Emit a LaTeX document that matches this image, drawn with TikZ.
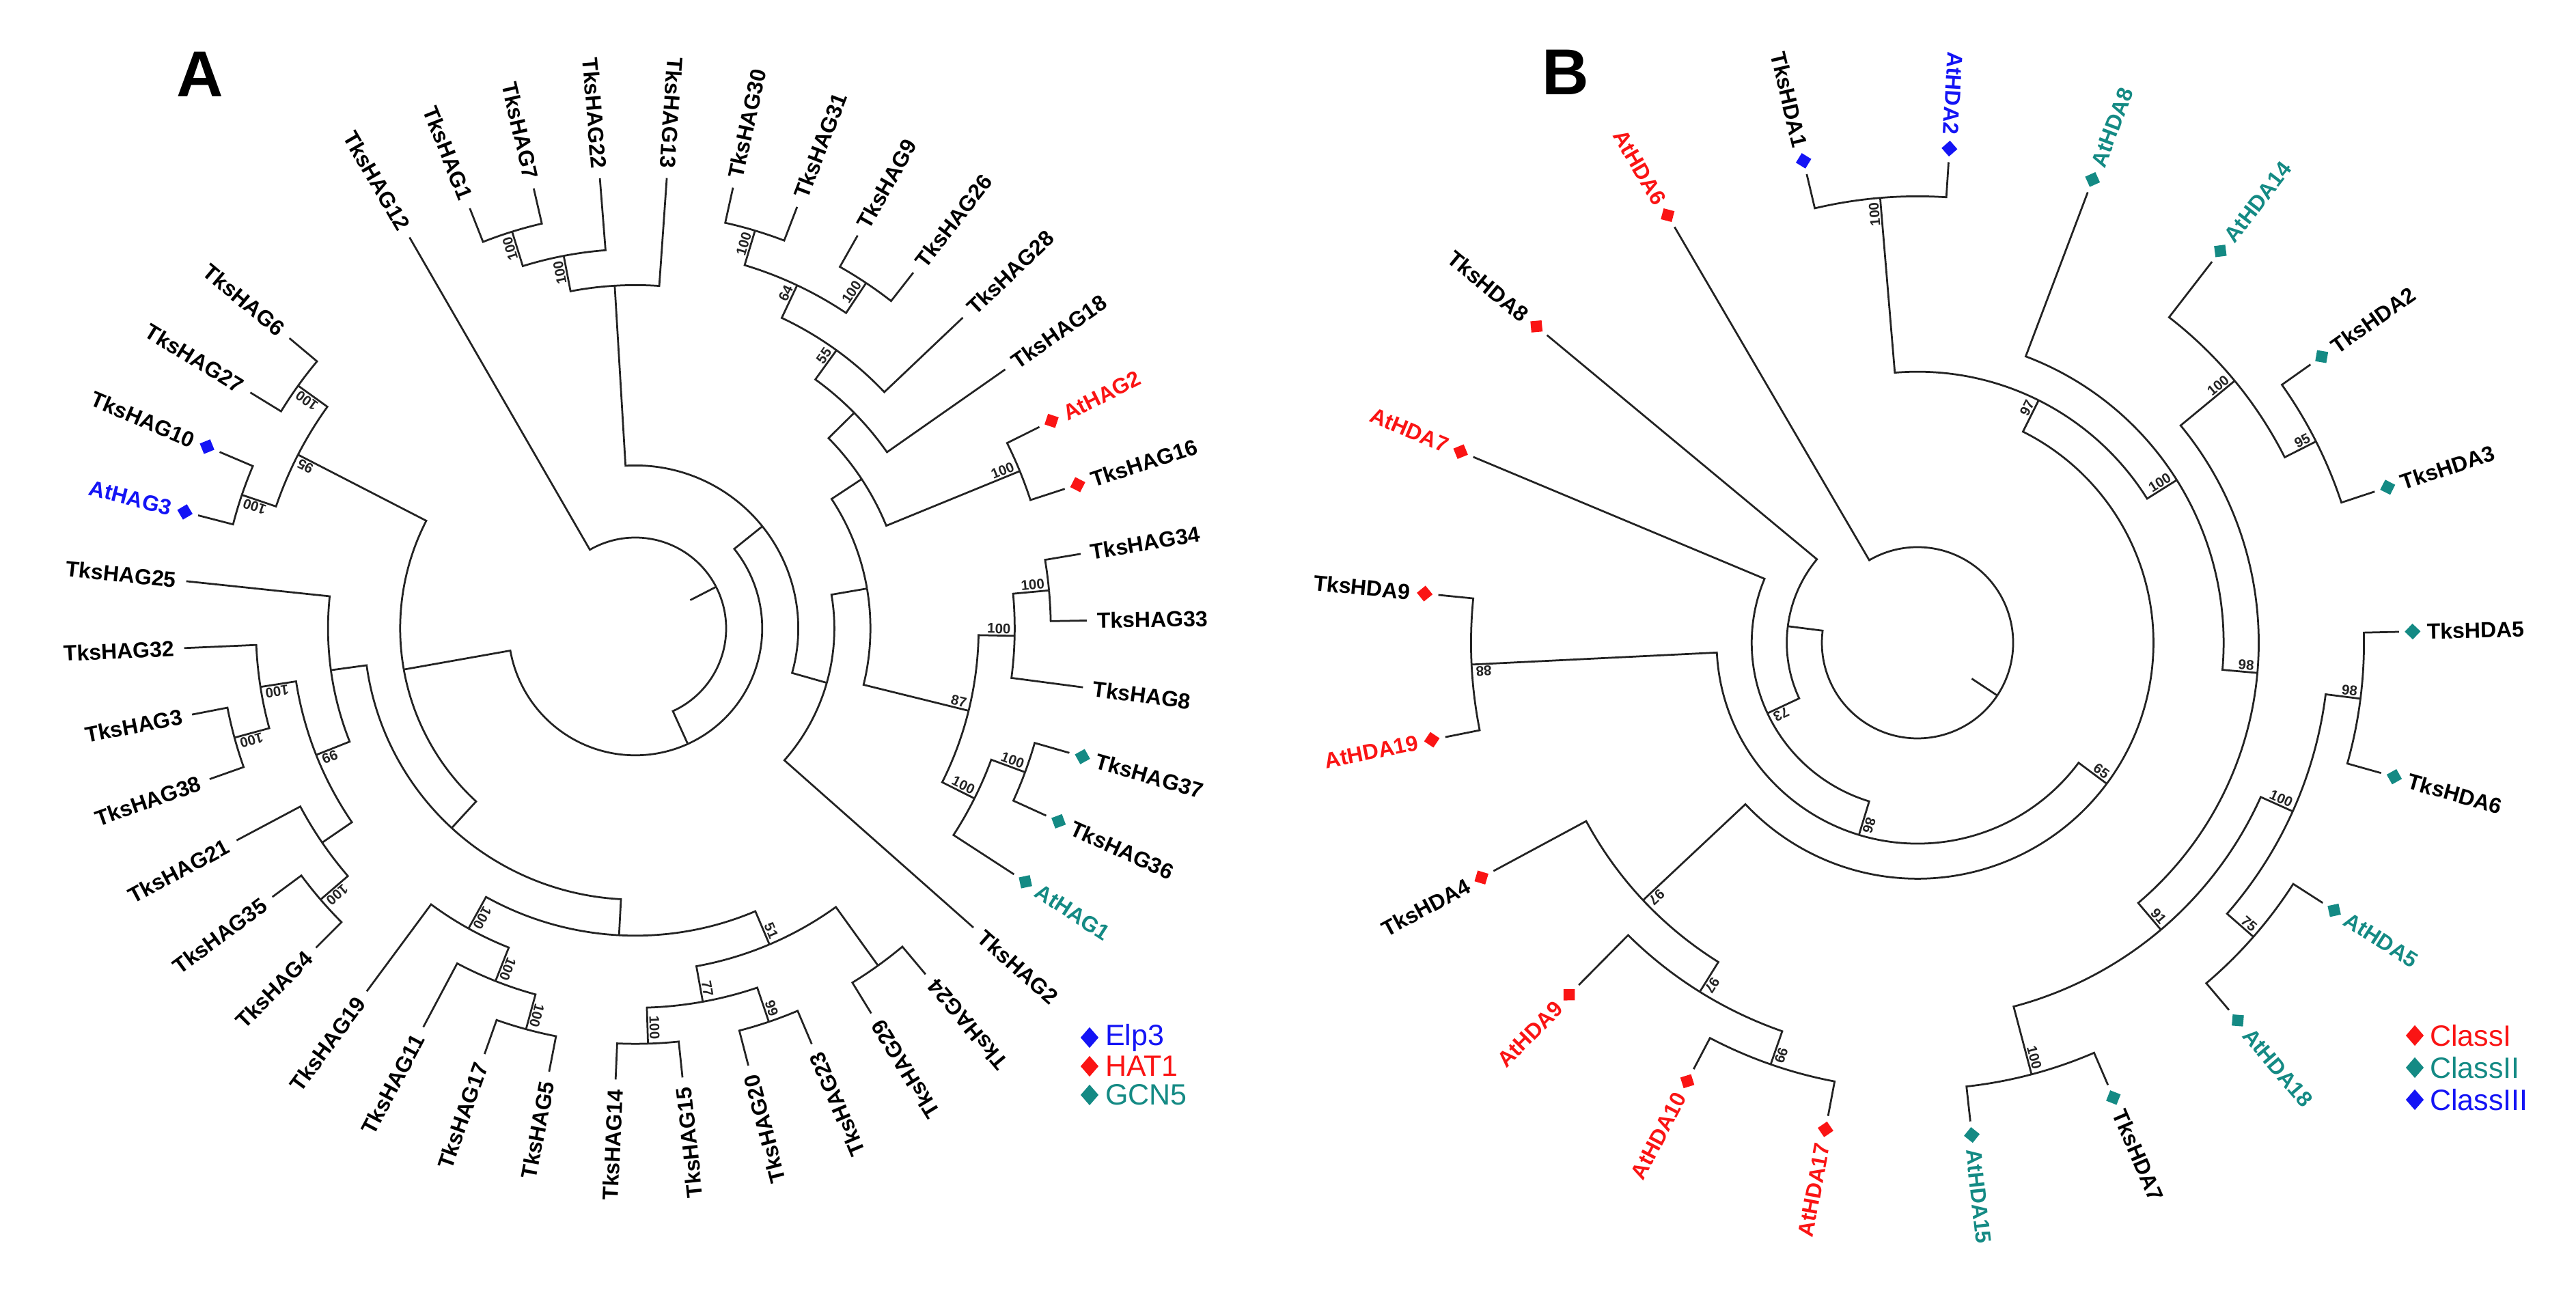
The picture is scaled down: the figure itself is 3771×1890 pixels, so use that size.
\documentclass[tikz,border=0pt]{standalone}
\usepackage{fontspec}
\setmainfont{Liberation Sans}
\usetikzlibrary{shapes.geometric}

\definecolor{clsred}{RGB}{250,20,20}
\definecolor{clsblue}{RGB}{20,20,245}
\definecolor{clsteal}{RGB}{20,138,132}
\definecolor{treeline}{RGB}{35,35,35}

\tikzset{
  twig/.style={draw=treeline, line width=0.55pt},
  leaflab/.style={font=\bfseries\fontsize{6.4}{7}\selectfont, inner sep=0pt},
  bootlab/.style={font=\bfseries\fontsize{4.1}{4.5}\selectfont, inner sep=0.4pt, text=treeline},
  tipmark/.style={diamond, fill=#1, draw=none, inner sep=0pt, minimum size=4.8pt},
  legmark/.style={diamond, fill=#1, draw=none, inner sep=0pt, minimum width=5.4pt, minimum height=6.2pt},
  legtext/.style={font=\fontsize{8.6}{10}\selectfont, anchor=west, inner sep=0pt},
  panellab/.style={font=\bfseries\fontsize{19}{22}\selectfont, inner sep=0pt}
}

\newcommand{\setpos}[3]{%
  \expandafter\xdef\csname ta@#1\endcsname{#2}%
  \expandafter\xdef\csname tr@#1\endcsname{#3}%
  \coordinate (#1) at (#2:#3);}

\newcommand{\joinup}[2]{%
  \edef\tpA{\csname ta@#1\endcsname}%
  \edef\tpR{\csname tr@#1\endcsname}%
  \edef\tcA{\csname ta@#2\endcsname}%
  \draw[twig] (#1) arc[start angle=\tpA, end angle=\tcA, radius=\tpR] -- (#2);}

\newcommand{\cladeat}[5]{%
  \edef\tmpx{\csname ta@#2\endcsname}\edef\tmpy{\csname ta@#3\endcsname}%
  \pgfmathsetmacro\tmpang{(\tmpx+\tmpy)/2}%
  \pgfmathsetmacro\tmprad{\rbase+\rstep*#4}%
  \setpos{#1}{\tmpang}{\tmprad}%
  \joinup{#1}{#2}\joinup{#1}{#3}%
  \if\relax\detokenize{#5}\relax\else
    \node[bootlab, rotate=\tmpang, anchor=south east] (#1-bs) at (\tmpang:\tmprad-3) {#5};%
  \fi}

\newcommand{\leafat}[6]{%
  \pgfmathsetmacro\tmpang{\tipstart-\tipstep*#2}%
  \setpos{#1}{\tmpang}{\tipR}%
  \def\tmpc{#4}%
  \ifx\tmpc\empty\def\tgap{14}\else\def\tgap{40}%
    \node[tipmark=#4, rotate=\tmpang] (#1-m) at (\tmpang:\tipR+20) {};\fi
  \ifnum#3=1\relax
    \node[leaflab, text=#5, rotate=\tmpang+180, anchor=east] (#1-t) at (\tmpang:\tipR+\tgap) {#6};%
  \else
    \node[leaflab, text=#5, rotate=\tmpang, anchor=west] (#1-t) at (\tmpang:\tipR+\tgap) {#6};%
  \fi}

\newcommand{\rootstub}[1]{%
  \edef\tpA{\csname ta@#1\endcsname}\edef\tpR{\csname tr@#1\endcsname}%
  \coordinate (#1-s) at (\tpA:\tpR*0.68);
  \draw[twig] (#1) -- (#1-s);}

\begin{document}
\begin{tikzpicture}[x=0.2pt, y=0.2pt]
  \useasboundingbox (0,0) rectangle (3771,1890);
  \fill[white] (0,0) rectangle (3771,1890);

  \node[panellab] (labA) at (293,1781) {A};
  \node[panellab] (labB) at (2292,1784) {B};

  \begin{scope}[shift={(930,970)}]
    \def\tipR{661}\def\tipstart{120}\def\tipstep{8.5}\def\rbase{133}\def\rstep{52.8}
    \leafat{aTksHAG12}{0}{1}{}{black}{TksHAG12}
    \leafat{aTksHAG1}{1}{1}{}{black}{TksHAG1}
    \leafat{aTksHAG7}{2}{1}{}{black}{TksHAG7}
    \leafat{aTksHAG22}{3}{1}{}{black}{TksHAG22}
    \leafat{aTksHAG13}{4}{1}{}{black}{TksHAG13}
    \leafat{aTksHAG30}{5}{0}{}{black}{TksHAG30}
    \leafat{aTksHAG31}{6}{0}{}{black}{TksHAG31}
    \leafat{aTksHAG9}{7}{0}{}{black}{TksHAG9}
    \leafat{aTksHAG26}{8}{0}{}{black}{TksHAG26}
    \leafat{aTksHAG28}{9}{0}{}{black}{TksHAG28}
    \leafat{aTksHAG18}{10}{0}{}{black}{TksHAG18}
    \leafat{aAtHAG2}{11}{0}{clsred}{clsred}{AtHAG2}
    \leafat{aTksHAG16}{12}{0}{clsred}{black}{TksHAG16}
    \leafat{aTksHAG34}{13}{0}{}{black}{TksHAG34}
    \leafat{aTksHAG33}{14}{0}{}{black}{TksHAG33}
    \leafat{aTksHAG8}{15}{0}{}{black}{TksHAG8}
    \leafat{aTksHAG37}{16}{0}{clsteal}{black}{TksHAG37}
    \leafat{aTksHAG36}{17}{0}{clsteal}{black}{TksHAG36}
    \leafat{aAtHAG1}{18}{0}{clsteal}{clsteal}{AtHAG1}
    \leafat{aTksHAG2}{19}{0}{}{black}{TksHAG2}
    \leafat{aTksHAG24}{20}{1}{}{black}{TksHAG24}
    \leafat{aTksHAG29}{21}{1}{}{black}{TksHAG29}
    \leafat{aTksHAG23}{22}{1}{}{black}{TksHAG23}
    \leafat{aTksHAG20}{23}{1}{}{black}{TksHAG20}
    \leafat{aTksHAG15}{24}{1}{}{black}{TksHAG15}
    \leafat{aTksHAG14}{25}{1}{}{black}{TksHAG14}
    \leafat{aTksHAG5}{26}{1}{}{black}{TksHAG5}
    \leafat{aTksHAG17}{27}{1}{}{black}{TksHAG17}
    \leafat{aTksHAG11}{28}{1}{}{black}{TksHAG11}
    \leafat{aTksHAG19}{29}{1}{}{black}{TksHAG19}
    \leafat{aTksHAG4}{30}{1}{}{black}{TksHAG4}
    \leafat{aTksHAG35}{31}{1}{}{black}{TksHAG35}
    \leafat{aTksHAG21}{32}{1}{}{black}{TksHAG21}
    \leafat{aTksHAG38}{33}{1}{}{black}{TksHAG38}
    \leafat{aTksHAG3}{34}{1}{}{black}{TksHAG3}
    \leafat{aTksHAG32}{35}{1}{}{black}{TksHAG32}
    \leafat{aTksHAG25}{36}{1}{}{black}{TksHAG25}
    \leafat{aAtHAG3}{37}{1}{clsblue}{clsblue}{AtHAG3}
    \leafat{aTksHAG10}{38}{1}{clsblue}{black}{TksHAG10}
    \leafat{aTksHAG27}{39}{1}{}{black}{TksHAG27}
    \leafat{aTksHAG6}{40}{1}{}{black}{TksHAG6}

    \cladeat{aQ}{aTksHAG1}{aTksHAG7}{9}{100}
    \cladeat{aP}{aQ}{aTksHAG22}{8}{100}
    \cladeat{aT}{aP}{aTksHAG13}{7}{}
    \cladeat{aC1}{aTksHAG30}{aTksHAG31}{9}{100}
    \cladeat{aC2}{aTksHAG9}{aTksHAG26}{9}{100}
    \cladeat{aV3}{aC1}{aC2}{8}{64}
    \cladeat{aV2}{aV3}{aTksHAG28}{7}{55}
    \cladeat{aV1}{aV2}{aTksHAG18}{6}{}
    \cladeat{aC3}{aAtHAG2}{aTksHAG16}{9}{100}
    \cladeat{aV}{aV1}{aC3}{5}{}
    \cladeat{aC4}{aTksHAG34}{aTksHAG33}{9}{100}
    \cladeat{aU1}{aC4}{aTksHAG8}{8}{100}
    \cladeat{aC5}{aTksHAG37}{aTksHAG36}{9}{100}
    \cladeat{aU2}{aC5}{aAtHAG1}{8}{100}
    \cladeat{aU}{aU1}{aU2}{7}{87}
    \cladeat{aW}{aV}{aU}{4}{}
    \cladeat{aZ}{aW}{aTksHAG2}{3}{}
    \cladeat{aY}{aT}{aZ}{2}{}
    \cladeat{aC6}{aTksHAG24}{aTksHAG29}{9}{}
    \cladeat{aC7}{aTksHAG23}{aTksHAG20}{9}{99}
    \cladeat{aC8}{aTksHAG15}{aTksHAG14}{9}{100}
    \cladeat{aB5}{aC7}{aC8}{8}{77}
    \cladeat{aB4}{aC6}{aB5}{7}{51}
    \cladeat{aC9}{aTksHAG5}{aTksHAG17}{9}{100}
    \cladeat{aB2}{aC9}{aTksHAG11}{8}{100}
    \cladeat{aB1}{aB2}{aTksHAG19}{7}{100}
    \cladeat{aB0}{aB4}{aB1}{6}{}
    \cladeat{aC10}{aTksHAG4}{aTksHAG35}{9}{100}
    \cladeat{aM1}{aC10}{aTksHAG21}{8}{}
    \cladeat{aC11}{aTksHAG38}{aTksHAG3}{9}{100}
    \cladeat{aM2}{aC11}{aTksHAG32}{8}{100}
    \cladeat{aM0}{aM1}{aM2}{7}{99}
    \cladeat{aL2}{aM0}{aTksHAG25}{6}{}
    \cladeat{aL3}{aB0}{aL2}{5}{}
    \cladeat{aC12}{aAtHAG3}{aTksHAG10}{9}{100}
    \cladeat{aC13}{aTksHAG27}{aTksHAG6}{9}{100}
    \cladeat{aL1}{aC12}{aC13}{8}{95}
    \cladeat{aL4}{aL3}{aL1}{4}{}
    \cladeat{aX}{aY}{aL4}{1}{}
    \cladeat{aroot}{aTksHAG12}{aX}{0}{}
    \rootstub{aroot}
  \end{scope}

  \begin{scope}[shift={(2807,949)}]
    \def\tipR{705}\def\tipstart{120.3}\def\tipstep{17}\def\rbase{140}\def\rstep{51.36}
    \leafat{bAtHDA6}{0}{1}{clsred}{clsred}{AtHDA6}
    \leafat{bTksHDA1}{1}{1}{clsblue}{black}{TksHDA1}
    \leafat{bAtHDA2}{2}{1}{clsblue}{clsblue}{AtHDA2}
    \leafat{bAtHDA8}{3}{0}{clsteal}{clsteal}{AtHDA8}
    \leafat{bAtHDA14}{4}{0}{clsteal}{clsteal}{AtHDA14}
    \leafat{bTksHDA2}{5}{0}{clsteal}{black}{TksHDA2}
    \leafat{bTksHDA3}{6}{0}{clsteal}{black}{TksHDA3}
    \leafat{bTksHDA5}{7}{0}{clsteal}{black}{TksHDA5}
    \leafat{bTksHDA6}{8}{0}{clsteal}{black}{TksHDA6}
    \leafat{bAtHDA5}{9}{0}{clsteal}{clsteal}{AtHDA5}
    \leafat{bAtHDA18}{10}{0}{clsteal}{clsteal}{AtHDA18}
    \leafat{bTksHDA7}{11}{0}{clsteal}{black}{TksHDA7}
    \leafat{bAtHDA15}{12}{0}{clsteal}{clsteal}{AtHDA15}
    \leafat{bAtHDA17}{13}{1}{clsred}{clsred}{AtHDA17}
    \leafat{bAtHDA10}{14}{1}{clsred}{clsred}{AtHDA10}
    \leafat{bAtHDA9}{15}{1}{clsred}{clsred}{AtHDA9}
    \leafat{bTksHDA4}{16}{1}{clsred}{black}{TksHDA4}
    \leafat{bAtHDA19}{17}{1}{clsred}{clsred}{AtHDA19}
    \leafat{bTksHDA9}{18}{1}{clsred}{black}{TksHDA9}
    \leafat{bAtHDA7}{19}{1}{clsred}{clsred}{AtHDA7}
    \leafat{bTksHDA8}{20}{1}{clsred}{black}{TksHDA8}

    \cladeat{bE1}{bTksHDA1}{bAtHDA2}{10}{100}
    \cladeat{bQ1}{bTksHDA2}{bTksHDA3}{10}{95}
    \cladeat{bQ2}{bAtHDA14}{bQ1}{9}{100}
    \cladeat{bE2}{bTksHDA5}{bTksHDA6}{10}{98}
    \cladeat{bE3}{bAtHDA5}{bAtHDA18}{10}{75}
    \cladeat{bQ6}{bE2}{bE3}{9}{100}
    \cladeat{bE4}{bTksHDA7}{bAtHDA15}{10}{100}
    \cladeat{bQ5}{bQ6}{bE4}{8}{91}
    \cladeat{bQ3}{bQ2}{bQ5}{7}{98}
    \cladeat{bY}{bAtHDA8}{bQ3}{6}{100}
    \cladeat{bN5}{bE1}{bY}{5}{97}
    \cladeat{bK3}{bAtHDA17}{bAtHDA10}{10}{99}
    \cladeat{bK2}{bK3}{bAtHDA9}{9}{97}
    \cladeat{bK1}{bK2}{bTksHDA4}{8}{97}
    \cladeat{bN4}{bN5}{bK1}{4}{65}
    \cladeat{bE5}{bAtHDA19}{bTksHDA9}{10}{88}
    \cladeat{bN3}{bN4}{bE5}{3}{86}
    \cladeat{bN2}{bN3}{bAtHDA7}{2}{73}
    \cladeat{bN1}{bN2}{bTksHDA8}{1}{}
    \cladeat{broot}{bAtHDA6}{bN1}{0}{}
    \rootstub{broot}
  \end{scope}

  \node[legmark=clsblue] (lgA1) at (1595,371) {};
  \node[legtext, text=clsblue] (lgA1t) at (1617,371) {Elp3};
  \node[legmark=clsred] (lgA2) at (1595,329) {};
  \node[legtext, text=clsred] (lgA2t) at (1617,329) {HAT1};
  \node[legmark=clsteal] (lgA3) at (1595,287) {};
  \node[legtext, text=clsteal] (lgA3t) at (1617,287) {GCN5};

  \node[legmark=clsred] (lgB1) at (3535,374) {};
  \node[legtext, text=clsred] (lgB1t) at (3556,374) {ClassI};
  \node[legmark=clsteal] (lgB2) at (3535,327) {};
  \node[legtext, text=clsteal] (lgB2t) at (3556,327) {ClassII};
  \node[legmark=clsblue] (lgB3) at (3535,280) {};
  \node[legtext, text=clsblue] (lgB3t) at (3556,280) {ClassIII};
\end{tikzpicture}
\end{document}
